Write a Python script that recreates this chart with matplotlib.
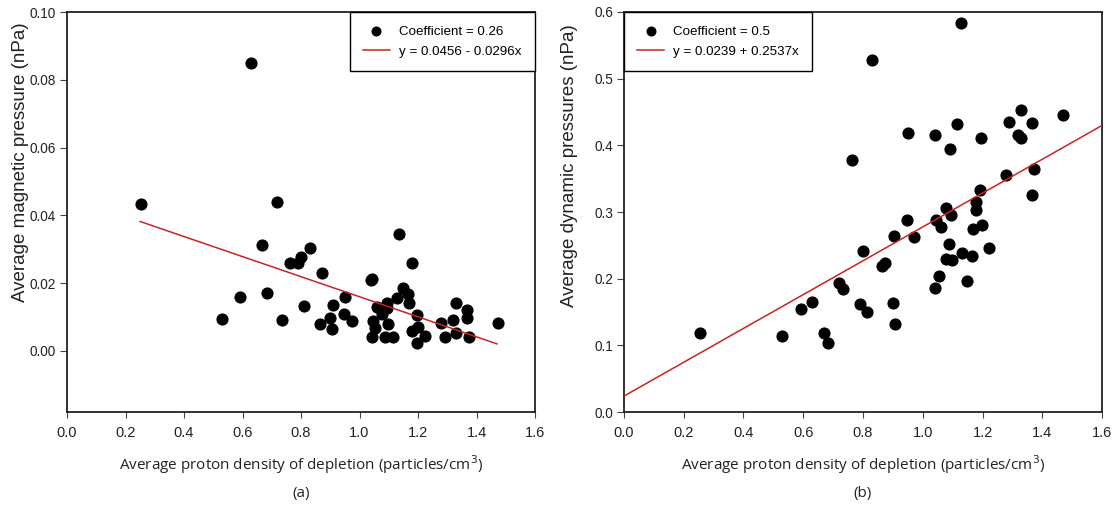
import matplotlib
matplotlib.use("Agg")
import matplotlib.pyplot as plt
import numpy as np

# Panel (a): magnetic pressure
a_x = [0.253, 0.629, 0.718, 1.134, 0.667, 0.831, 0.762, 0.791, 0.800, 1.178,
       0.873, 1.042, 1.040, 0.592, 0.683, 0.811, 0.951, 0.908, 1.129, 1.150,
       1.167, 1.169, 1.061, 1.093, 1.093, 1.078, 1.330, 1.366, 1.366, 1.198,
       0.948, 0.531, 0.734, 0.899, 0.973, 1.045, 0.865, 1.053, 0.905, 1.099,
       1.279, 1.321, 1.473, 1.201, 1.178, 1.329, 1.042, 1.087, 1.116, 1.224,
       1.292, 1.376, 1.196]
a_y = [0.0434, 0.0849, 0.0439, 0.0345, 0.0313, 0.0303, 0.0260, 0.0260, 0.0278, 0.0260,
       0.0231, 0.0212, 0.0208, 0.0160, 0.0170, 0.0133, 0.0160, 0.0136, 0.0157, 0.0185,
       0.0167, 0.0141, 0.0131, 0.0141, 0.0126, 0.0108, 0.0141, 0.0121, 0.0098, 0.0106,
       0.0108, 0.0093, 0.0091, 0.0096, 0.0088, 0.0087, 0.0080, 0.0067, 0.0064, 0.0079,
       0.0082, 0.0091, 0.0082, 0.0072, 0.0060, 0.0052, 0.0040, 0.0040, 0.0042, 0.0044,
       0.0042, 0.0040, 0.0023]
a_coef = [0.0456, -0.0296]
a_range = [0.25, 1.47]

# Panel (b): dynamic pressure
b_x = [1.127, 0.831, 0.764, 0.950, 1.041, 1.113, 1.091, 1.195, 1.290, 1.329,
       1.365, 1.320, 1.329, 1.470, 1.277, 1.372, 1.365, 1.192, 1.177, 1.177,
       1.077, 1.093, 0.948, 1.044, 1.061, 1.167, 1.197, 0.904, 0.971, 1.088,
       1.222, 0.801, 1.132, 1.166, 1.077, 1.099, 0.865, 0.874, 1.055, 1.041,
       1.147, 0.719, 0.734, 0.630, 0.591, 0.790, 0.812, 0.899, 0.907, 0.254,
       0.530, 0.668, 0.684]
b_y = [0.583, 0.528, 0.378, 0.418, 0.4155, 0.4315, 0.394, 0.411, 0.4345, 0.453,
       0.433, 0.4155, 0.411, 0.4455, 0.3555, 0.364, 0.3255, 0.333, 0.3155, 0.303,
       0.3055, 0.2955, 0.288, 0.288, 0.278, 0.2745, 0.2805, 0.2645, 0.263, 0.252,
       0.2465, 0.2420, 0.238, 0.234, 0.229, 0.228, 0.219, 0.223, 0.2045, 0.1865,
       0.1965, 0.193, 0.1845, 0.1655, 0.1545, 0.1615, 0.1505, 0.163, 0.1315, 0.118,
       0.114, 0.118, 0.104]
b_coef = [0.0239, 0.2537]
b_range = [0.0, 1.6]

x_ticks = [0.0, 0.2, 0.4, 0.6, 0.8, 1.0, 1.2, 1.4, 1.6]
a_yticks = [0.00, 0.02, 0.04, 0.06, 0.08, 0.10]
b_yticks = [0.0, 0.1, 0.2, 0.3, 0.4, 0.5, 0.6]

TICKFONT = "Liberation Sans"
LABELFONT = "Open Sans"
TEXTC = "#222222"

fig = plt.figure(figsize=(11.16, 5.08), dpi=100)
ax1 = fig.add_axes([67/1116, 96/508, 468/1116, 400/508])
ax2 = fig.add_axes([624/1116, 96/508, 478/1116, 400/508])


def style(ax, yticks, yfmt, ylim, ylabel, ylab_pos, letter, loc):
    ax.set_xlim(0, 1.6)
    ax.set_ylim(*ylim)
    ax.set_xticks(x_ticks)
    ax.set_xticklabels([f"{t:.1f}" for t in x_ticks], family=TICKFONT, fontsize=10.5, color=TEXTC)
    ax.set_yticks(yticks)
    ax.set_yticklabels([yfmt.format(t) for t in yticks], family=TICKFONT, fontsize=9.8, color=TEXTC)
    ax.tick_params(axis="x", direction="out", length=4, width=0.8, color="#444444", pad=6)
    ax.tick_params(axis="y", direction="out", length=5, width=0.8, color="#444444", pad=3)
    for s in ax.spines.values():
        s.set_linewidth(1.3)
        s.set_color("#222222")
    ax.set_xlabel("Average proton density of depletion (particles/cm$^3$)",
                  family=LABELFONT, fontsize=11, color=TEXTC, labelpad=10)
    ax.set_ylabel(ylabel, family=TICKFONT, fontsize=13.5, color=TEXTC)
    ax.yaxis.set_label_coords(*ylab_pos)
    ax.text(0.5, -0.2025, letter, transform=ax.transAxes, ha="center", va="center",
            family=LABELFONT, fontsize=11, color=TEXTC)
    leg = ax.legend(loc=loc, borderaxespad=0, fancybox=False, frameon=True,
                    prop={"family": TICKFONT, "size": 9.6}, handlelength=2.0,
                    handletextpad=0.7, borderpad=1.0, labelspacing=0.6,
                    markerscale=0.8)
    leg.get_frame().set_edgecolor("black")
    leg.get_frame().set_linewidth(1.0)
    leg.get_frame().set_alpha(1)


ax1.scatter(a_x, a_y, s=60, color="black", zorder=3, label="Coefficient = 0.26")
xa = np.array(a_range)
ax1.plot(xa, a_coef[0] + a_coef[1] * xa, color="#cc2222", lw=1.1, zorder=4,
         label="y = 0.0456 - 0.0296x")
style(ax1, a_yticks, "{:.2f}", (-0.018, 0.10), "Average magnetic pressure (nPa)",
      (-0.081, 0.625), "(a)", "upper right")

ax2.scatter(b_x, b_y, s=60, color="black", zorder=3, label="Coefficient = 0.5")
xb = np.array(b_range)
ax2.plot(xb, b_coef[0] + b_coef[1] * xb, color="#cc2222", lw=1.1, zorder=4,
         label="y = 0.0239 + 0.2537x")
style(ax2, b_yticks, "{:.1f}", (0.0, 0.6), "Average dynamic pressures (nPa)",
      (-0.096, 0.615), "(b)", "upper left")

fig.savefig("out.png", dpi=100)
